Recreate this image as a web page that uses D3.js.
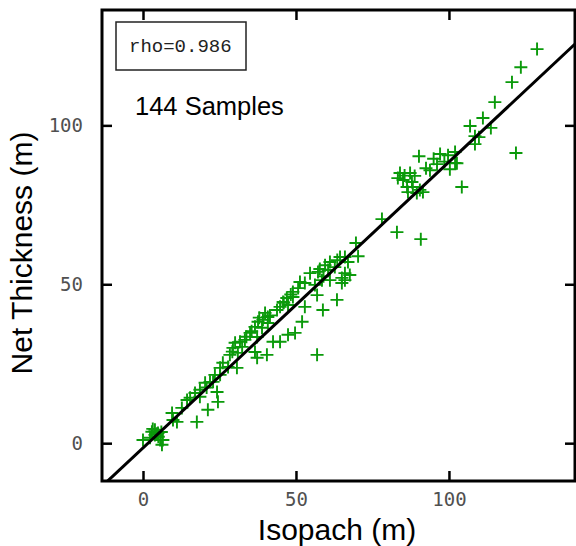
<!DOCTYPE html>
<html>
<head>
<meta charset="utf-8">
<script src="https://cdn.jsdelivr.net/npm/d3@7"></script>
<style>
  body { margin: 0; background: #fff; }
  svg { display: block; }
</style>
</head>
<body>
<svg width="576" height="546"></svg>
<script>
// Isopach (x) vs net thickness (y)
const isopach = [
  128.8, 123.5, 120.6, 115.0, 111.1, 106.9, 113.7, 108.5, 109.8, 108.5, 121.9, 102.0, 102.0,
  90.2, 97.1, 99.7, 102.6, 96.1, 100.3, 93.8, 84.0, 83.3, 87.3, 85.0, 87.9, 86.3, 88.2, 90.5, 91.5, 89.5, 86.6, 104.2, 78.1, 83.0, 90.8,
  69.6, 70.3, 66.0, 64.4, 67.0, 61.1, 59.5, 62.7, 57.2, 60.5, 54.6, 66.0, 67.6, 65.0, 66.0, 58.5, 61.1, 65.0, 51.3, 52.9, 56.2, 50.7, 49.0, 56.9, 63.4, 52.9, 58.8, 52.0, 56.9,
  49.0, 47.0, 45.8, 47.4, 44.8, 43.8, 39.9, 40.8, 39.2, 37.6, 36.6, 40.8, 38.9, 49.7, 47.4, 44.8, 42.5, 35.0, 37.3, 33.3, 31.7, 30.1, 32.4, 29.4, 31.0, 28.4, 36.6, 37.3, 40.5, 26.1, 27.8, 25.2, 23.5,
  30.7, 25.2, 22.9, 21.9, 20.3, 18.6, 17.0, 18.6, 15.4, 24.2, 24.5, 21.2, 17.6, 14.4, 12.7, 9.5, 11.1, 9.8,
  3.9, 2.9, 4.9, 5.6, 2.3, 6.5, 0.0, 6.2, 3.9,
  4.5, 5.0, 3.2, 6.0, 35.5, 38.0, 41.5, 33.8, 46.0, 48.3, 57.8, 63.5, 59.0, 85.5, 88.8, 95.0, 98.5, 92.5, 29.2, 20.8
];
const netThickness = [
  124.0, 118.3, 113.6, 107.3, 102.3, 99.8, 99.2, 96.6, 96.3, 94.1, 91.3, 91.6, 88.2,
  90.3, 91.0, 90.6, 88.1, 87.8, 86.2, 85.9, 85.0, 83.4, 85.0, 82.8, 82.2, 80.6, 80.6, 79.7, 79.0, 78.7, 79.0, 80.6, 70.5, 66.4, 64.2,
  63.0, 58.8, 58.6, 58.6, 57.0, 57.0, 56.0, 55.4, 53.9, 54.5, 53.5, 53.5, 52.9, 52.0, 51.3, 51.3, 51.3, 50.4, 50.7, 50.4, 49.8, 48.8, 47.6, 46.6, 45.1, 42.9, 41.9, 38.2, 27.8,
  46.0, 45.7, 44.4, 43.5, 42.9, 41.9, 41.0, 39.7, 38.8, 38.2, 36.6, 37.8, 36.3, 34.7, 34.1, 31.9, 31.9, 34.7, 33.4, 32.5, 31.9, 31.6, 30.3, 30.0, 28.4, 27.8, 28.7, 26.9, 27.8, 25.3, 24.0, 23.7, 21.5,
  23.7, 21.5, 19.3, 19.3, 19.0, 16.8, 15.8, 14.6, 14.3, 16.1, 13.0, 10.5, 6.7, 13.6, 11.1, 9.5, 6.7, 7.3,
  4.2, 3.6, 3.2, 1.0, 1.7, 1.0, 1.0, -0.5, 2.6,
  3.0, 2.0, 4.5, 3.5, 35.2, 39.5, 40.2, 33.5, 44.2, 46.8, 54.8, 57.6, 52.5, 84.2, 84.1, 89.5, 88.6, 86.5, 28.8, 17.5
];
const xTicks = [0, 50, 100];
const yTicks = [0, 50, 100];
const fitSlope = 0.9;
const fitIntercept = -1.5;
const rhoLabel = "rho=0.986";
const sampleLabel = isopach.length + " Samples";

const svg = d3.select("svg");
const plotL = 102, plotR = 575, plotT = 10, plotB = 481;

const x = d3.scaleLinear().domain([-13.4, 141.2]).range([plotL, plotR]);
const y = d3.scaleLinear().domain([-11.9, 136.3]).range([plotB, plotT]);

svg.append("clipPath").attr("id", "plot")
  .append("rect")
  .attr("x", plotL).attr("y", plotT)
  .attr("width", plotR - plotL).attr("height", plotB - plotT);

// points
const pts = svg.append("g").attr("clip-path", "url(#plot)")
  .attr("stroke", "#0b9a0b").attr("stroke-width", 1.9);
const r = 6.5;
const data = isopach.map((v, i) => ({ x: v, y: netThickness[i] }));
pts.selectAll("path.pt")
  .data(data)
  .enter()
  .append("path")
  .attr("class", "pt")
  .attr("d", (d) => {
    const cx = x(d.x), cy = y(d.y);
    return `M${cx - r},${cy}H${cx + r}M${cx},${cy - r}V${cy + r}`;
  });

// fit line
const [x0, x1] = x.domain();
svg.append("line")
  .attr("clip-path", "url(#plot)")
  .attr("x1", x(x0)).attr("y1", y(fitSlope * x0 + fitIntercept))
  .attr("x2", x(x1)).attr("y2", y(fitSlope * x1 + fitIntercept))
  .attr("stroke", "#000").attr("stroke-width", 3);

// axes: ticks on all four sides, pointing inward
const tickFont = "'DejaVu Sans Mono', monospace";
const xb = svg.append("g").attr("transform", `translate(0,${plotB})`)
  .call(d3.axisBottom(x).tickValues(xTicks).tickSize(-10).tickPadding(12));
const xt = svg.append("g").attr("transform", `translate(0,${plotT})`)
  .call(d3.axisTop(x).tickValues(xTicks).tickSize(-10).tickFormat(""));
const yl = svg.append("g").attr("transform", `translate(${plotL},0)`)
  .call(d3.axisLeft(y).tickValues(yTicks).tickSize(-10).tickPadding(19));
const yr = svg.append("g").attr("transform", `translate(${plotR},0)`)
  .call(d3.axisRight(y).tickValues(yTicks).tickSize(-10).tickFormat(""));

[xb, xt, yl, yr].forEach((g) => {
  g.select(".domain").remove();
  g.selectAll(".tick line").attr("stroke", "#000").attr("stroke-width", 2.5);
  g.selectAll(".tick text")
    .attr("fill", "#505050")
    .style("font-family", tickFont)
    .style("font-size", "19px");
});

// frame
svg.append("rect")
  .attr("x", plotL).attr("y", plotT)
  .attr("width", plotR - plotL).attr("height", plotB - plotT)
  .attr("fill", "none").attr("stroke", "#000").attr("stroke-width", 3);

// axis titles
svg.append("text")
  .attr("x", 337).attr("y", 540)
  .attr("text-anchor", "middle")
  .style("font-family", "'Liberation Sans', Arial, sans-serif")
  .style("font-size", "30px")
  .text("Isopach (m)");

svg.append("text")
  .attr("transform", "translate(32,253) rotate(-90)")
  .attr("text-anchor", "middle")
  .style("font-family", "'Liberation Sans', Arial, sans-serif")
  .style("font-size", "30px")
  .text("Net Thickness (m)");

// annotations
svg.append("rect")
  .attr("x", 116).attr("y", 22).attr("width", 130).attr("height", 48)
  .attr("fill", "#fff").attr("stroke", "#222").attr("stroke-width", 1.5);
svg.append("text")
  .attr("x", 129).attr("y", 52)
  .style("font-family", "'Courier New', 'Liberation Mono', monospace")
  .style("font-size", "19px")
  .attr("fill", "#222")
  .text(rhoLabel);

svg.append("text")
  .attr("x", 135).attr("y", 115)
  .style("font-family", "'Liberation Sans', Arial, sans-serif")
  .style("font-size", "25.5px")
  .text(sampleLabel);
</script>
</body>
</html>
